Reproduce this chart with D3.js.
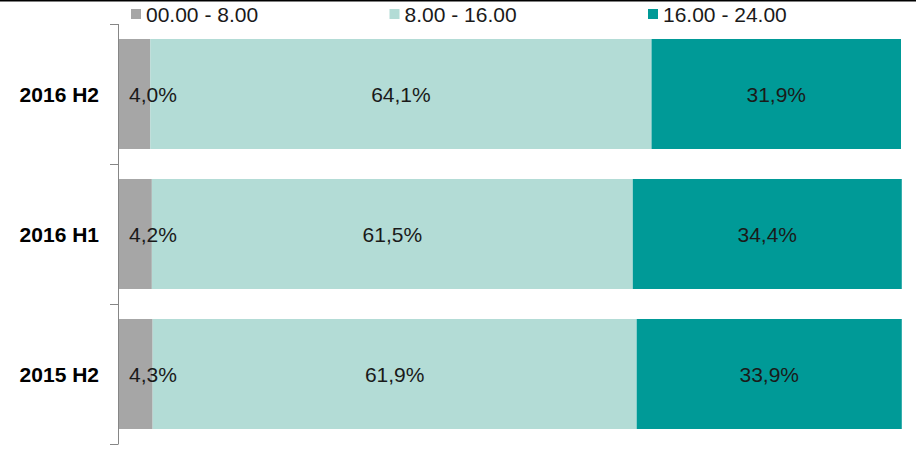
<!DOCTYPE html>
<html>
<head>
<meta charset="utf-8">
<script src="https://cdn.jsdelivr.net/npm/d3@7"></script>
<style>
  body { margin: 0; background: #fff; }
  svg { display: block; font-family: "Liberation Sans", Arial, sans-serif; }
</style>
</head>
<body>
<svg width="916" height="457"></svg>
<script>
  // data
  const categories = ['2016 H2', '2016 H1', '2015 H2'];
  const seriesNames = ['00.00 - 8.00', '8.00 - 16.00', '16.00 - 24.00'];
  const night = [4.0, 4.2, 4.3];
  const day = [64.1, 61.5, 61.9];
  const evening = [31.9, 34.4, 33.9];
  const colors = ['#a6a6a6', '#b3dcd6', '#009a97'];

  const svg = d3.select('svg');
  const margin = {top: 24, right: 15, bottom: 13, left: 119};
  const width = 916 - margin.left - margin.right;
  const height = 457 - margin.top - margin.bottom;

  // top border line
  svg.append('line')
    .attr('x1', 0).attr('x2', 916)
    .attr('y1', 0.75).attr('y2', 0.75)
    .attr('stroke', '#000').attr('stroke-width', 1.5);

  const rows = categories.map((c, i) => ({cat: c, values: [night[i], day[i], evening[i]]}));
  const stacked = d3.stack()
    .keys([0, 1, 2])
    .value((d, k) => d.values[k])(rows);

  const x = d3.scaleLinear().domain([0, 100]).range([0, width]);
  const y = d3.scaleBand()
    .domain(categories)
    .range([0, height])
    .paddingInner(30 / 140)
    .paddingOuter(15 / 140);

  const g = svg.append('g')
    .attr('transform', 'translate(' + margin.left + ',' + margin.top + ')');

  // bars
  const layers = g.selectAll('.layer')
    .data(stacked)
    .enter()
    .append('g')
      .attr('class', 'layer')
      .attr('fill', d => colors[d.key]);

  layers.selectAll('rect')
    .data(d => d)
    .enter()
    .append('rect')
      .attr('x', d => x(d[0]))
      .attr('y', d => y(d.data.cat))
      .attr('width', d => x(d[1]) - x(d[0]))
      .attr('height', y.bandwidth());

  // value labels
  stacked.forEach(layer => {
    g.selectAll('.lbl' + layer.key)
      .data(layer)
      .enter()
      .append('text')
        .attr('class', 'lbl' + layer.key)
        .attr('x', d => layer.key === 0 ? x(d[0]) + 10 : (x(d[0]) + x(d[1])) / 2)
        .attr('y', d => y(d.data.cat) + y.bandwidth() / 2)
        .attr('dy', '0.36em')
        .attr('text-anchor', layer.key === 0 ? 'start' : 'middle')
        .attr('font-size', 21)
        .attr('fill', '#1a1a1a')
        .text(d => d3.format('.1f')(d[1] - d[0]).replace('.', ',') + '%');
  });

  // y axis: line, boundary ticks, category labels
  const axis = g.append('g').attr('class', 'axis axis-y');
  axis.append('line')
    .attr('x1', -0.5).attr('x2', -0.5)
    .attr('y1', 0).attr('y2', height)
    .attr('stroke', '#868686');

  const gap = (y.step() - y.bandwidth()) / 2;
  const bounds = categories.map(c => y(c) - gap).concat([height]);
  axis.selectAll('.tick')
    .data(bounds)
    .enter()
    .append('line')
      .attr('class', 'tick')
      .attr('x1', -9).attr('x2', -0.5)
      .attr('y1', d => Math.round(d) + 0.5)
      .attr('y2', d => Math.round(d) + 0.5)
      .attr('stroke', '#868686');

  axis.selectAll('.cat')
    .data(categories)
    .enter()
    .append('text')
      .attr('class', 'cat')
      .attr('x', -20)
      .attr('y', d => y(d) + y.bandwidth() / 2)
      .attr('dy', '0.36em')
      .attr('text-anchor', 'end')
      .attr('font-size', 21)
      .attr('font-weight', 'bold')
      .attr('fill', '#000')
      .text(d => d);

  // legend
  const legendX = d3.scalePoint().domain(seriesNames).range([131, 648]);
  const legend = svg.selectAll('.legend')
    .data(seriesNames)
    .enter()
    .append('g')
      .attr('class', 'legend')
      .attr('transform', d => 'translate(' + legendX(d) + ',0)');
  legend.append('rect')
    .attr('x', 0).attr('y', 9)
    .attr('width', 10).attr('height', 10)
    .attr('fill', (d, i) => colors[i]);
  legend.append('text')
    .attr('x', 15).attr('y', 22)
    .attr('font-size', 21)
    .attr('fill', '#1a1a1a')
    .text(d => d);
</script>
</body>
</html>
